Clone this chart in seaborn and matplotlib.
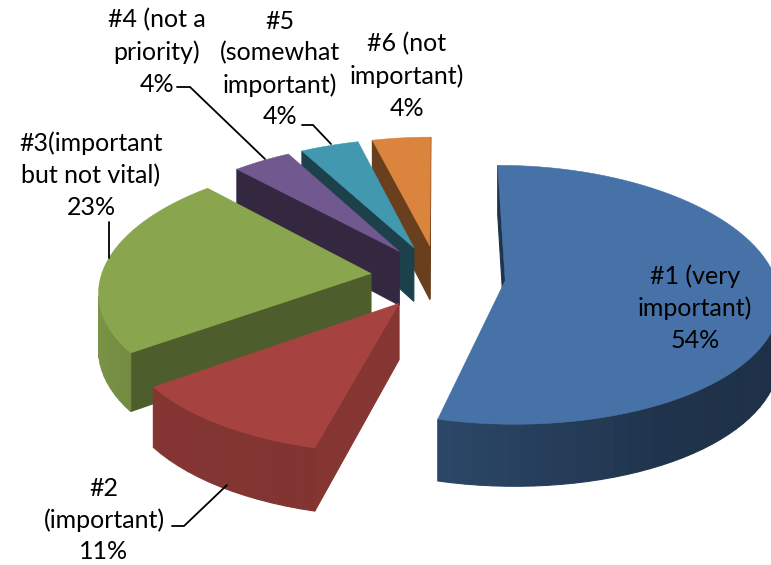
import numpy as np
import matplotlib
matplotlib.use("Agg")
import matplotlib.pyplot as plt
from matplotlib.patches import Polygon
import seaborn as sns

categories = ["#1 (very\nimportant)", "#2\n(important)", "#3(important\nbut not vital)",
              "#4 (not a\npriority)", "#5\n(somewhat\nimportant)", "#6 (not\nimportant)"]
values = [54, 11, 23, 4, 4, 4]
top_colors = ["#4672A8", "#A64340", "#89A64E", "#71588F", "#4198AF", "#DB843D"]

sns.set_theme(style="white")
plt.rcParams["font.family"] = ["Lato", "DejaVu Sans"]
palette = sns.color_palette(top_colors)

W, H = 771, 565
fig, ax = plt.subplots(figsize=(W / 100, H / 100), dpi=100)
ax.set_position([0, 0, 1, 1])
ax.set_xlim(0, W)
ax.set_ylim(H, 0)
ax.axis("off")

# projection of the tilted pie
CX, CY = 438, 276.5
RX, RY = 270, 127
PERSP_X = 0.125
PERSP_Y = 0.11
DEPTH = 55
EXPLODE = 0.25


def project(x, y, low=False):
    sx = 1 / (1 + PERSP_X * y)
    sy = 1 / (1 + PERSP_Y * y)
    return CX + RX * x * sx, CY - RY * y * sy + (DEPTH * sy if low else 0)


inner_shade = [0.45, 0.80, 0.56, 0.45, 0.43, 0.48]
outer_a = [0, 90, 150, 194.3, 194.5, 234, 234.1, 250, 290, 360]
outer_f = [0.4, 0.40, 0.45, 0.62, 0.78, 0.80, 0.84, 0.88, 0.93, 0.93]


def wall(p, q, color):
    """Side face under the edge p-q, drawn only if it faces the viewer."""
    if project(*p)[0] <= project(*q)[0]:
        return
    quad = [project(*p), project(*q), project(*q, True), project(*p, True)]
    ax.add_patch(Polygon(quad, closed=True, fc=color, ec=color, lw=0.8))


total = sum(values)
edges = np.cumsum([0] + values) / total * 360
slices = []
for i, v in enumerate(values):
    a0, a1 = edges[i], edges[i + 1]
    mid = np.radians((a0 + a1) / 2)
    ox, oy = EXPLODE * np.sin(mid), EXPLODE * np.cos(mid)
    slices.append((np.cos(mid), i, a0, a1, ox, oy))

for _, i, a0, a1, ox, oy in sorted(slices, key=lambda t: -t[0]):
    base = np.array(palette[i])
    angs = np.linspace(a0, a1, max(int((a1 - a0) / 2.5), 6))
    rad = np.radians(angs)
    xs, ys = ox + np.sin(rad), oy + np.cos(rad)
    wall((ox, oy), (xs[0], ys[0]), base * inner_shade[i])
    wall((xs[-1], ys[-1]), (ox, oy), base * inner_shade[i])
    for k in range(len(angs) - 1):
        f = np.interp((angs[k] + angs[k + 1]) / 2, outer_a, outer_f)
        wall((xs[k], ys[k]), (xs[k + 1], ys[k + 1]), base * f)
    pts = [project(ox, oy)] + [project(x, y) for x, y in zip(xs, ys)]
    ax.add_patch(Polygon(pts, closed=True, fc=base, ec=base, lw=0.4))

# data labels
label_pos = [(695, 308), (104, 520), (91, 175), (157, 52), (280, 69), (407, 76)]
for cat, v, (x, y) in zip(categories, values, label_pos):
    ax.text(x, y, f"{cat}\n{v}%", ha="center", va="center", ma="center",
            fontsize=18.0, color="black", linespacing=1.45, zorder=5)

# leader lines
leaders = [
    ([172, 184, 227], [526, 526, 485]),
    ([109, 109], [222, 258]),
    ([177, 190, 265], [87, 87, 159]),
    ([302, 313, 331], [125, 125, 144]),
]
for lx, ly in leaders:
    ax.plot(lx, ly, color="black", lw=1.3, zorder=4, solid_joinstyle="miter")

fig.savefig("out.png", dpi=100, facecolor="white")
